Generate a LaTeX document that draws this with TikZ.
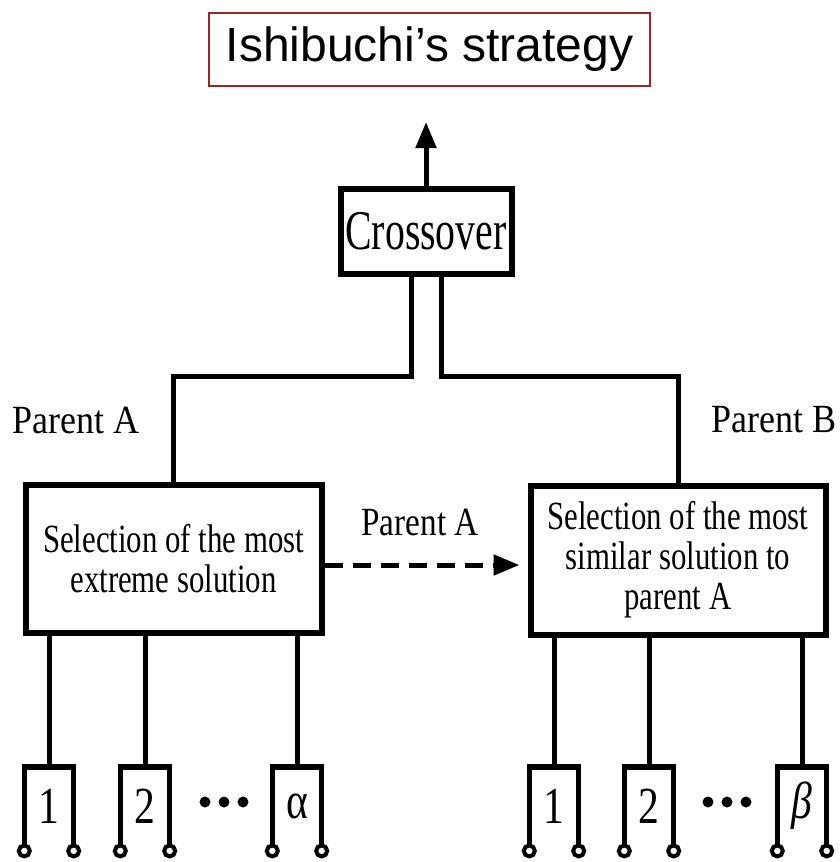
\documentclass[tikz,border=0pt]{standalone}
\usepackage{fontspec}
\setmainfont{Liberation Serif}
\newfontfamily\titlefont{Liberation Sans}
\usepackage{graphicx}
\usetikzlibrary{positioning, arrows.meta}
\newcommand{\cond}[2][0.8]{\scalebox{#1}[1]{#2}}
\definecolor{titlered}{RGB}{150,40,40}
\tikzset{
x=1pt, y=-1pt, % one unit is one pixel of the drawing, y pointing down
>={Triangle[length=26pt,width=20pt]}, % solid arrow heads
box/.style={draw, line width=6pt, align=center, inner sep=0pt, font=\fontsize{40}{40}\selectfont}, % selection boxes
tag/.style={font=\fontsize{40}{40}\selectfont}, % plain labels
wire/.style={line width=5pt}, % the connecting lines
chrom/.style={minimum width=49pt, minimum height=78pt, inner sep=0pt, anchor=north, font=\fontsize{52}{52}\selectfont}, % one solution of the population
}

\begin{document}
\begin{tikzpicture}
\useasboundingbox (0,0) rectangle (840,862);
\node[draw=titlered, line width=2pt, minimum width=441pt, minimum height=73pt, inner sep=0pt,
  font=\titlefont\fontsize{48}{48}\selectfont] (title) at (429.5,49.5) {Ishibuchi’s strategy};
\node[box, minimum width=171pt, minimum height=85pt, font=\fontsize{56}{56}\selectfont] (cross) at (426,231) {\cond[0.71]{Crossover}};
\node[box, minimum width=296pt, minimum height=148pt] (selA) at (173.5,558.5)
  {\cond[0.77]{Selection of the most}\\\cond[0.77]{extreme solution}};
\node[box, minimum width=295pt, minimum height=149pt] (selB) at (678,560)
  {\cond[0.77]{Selection of the most}\\\cond[0.77]{similar solution to}\\\cond[0.77]{parent A}};
\node[tag] (pA) at (76,420) {\cond[0.9]{Parent A}};
\node[tag] (pB) at (774,420) {\cond[0.9]{Parent B}};
\node[tag] (pAmid) at (420,522) {\cond[0.83]{Parent A}};
\coordinate (out) at (426,122);
\coordinate (jA) at (411,376);
\coordinate (jB) at (441,376);
\coordinate (dA) at ([yshift=-6.5pt]selA.east);
% population members
\foreach \x/\lab/\n in {49/1/a1, 145/2/a2, 297/α/aa, 554/1/b1, 649/2/b2, 802/{\itshape β}/bb} {
  \node[chrom] (\n) at (\x,767) {\cond{\lab}};
  \draw[line width=5pt] (\n.south west) -- (\n.north west) -- (\n.north east) -- (\n.south east);
  \draw[line width=6pt] ([xshift=-2pt]\n.north west) -- ([xshift=2pt]\n.north east);
  \draw[line width=4pt, fill=white] ([yshift=-5.5pt]\n.south west) circle (5.5pt)
    ([yshift=-5.5pt]\n.south east) circle (5.5pt);
}
\foreach \x in {205,224,243,708,727,746}
  \fill (\x,802) circle (5.5pt);
% connections
\draw[wire, ->] (cross.north) -- (out);
\draw[wire] ([xshift=-15pt]cross.south) -- (jA) -| (selA.north);
\draw[wire] ([xshift=15pt]cross.south) -- (jB) -| (selB.north);
\draw[line width=5pt, dash pattern=on 18pt off 10pt, ->, shorten >=8pt] (dA) -- (dA -| selB.west);
\foreach \n in {a1, a2, aa}
  \draw[wire] (selA.south -| \n.north) -- (\n.north);
\foreach \n in {b1, b2, bb}
  \draw[wire] (selB.south -| \n.north) -- (\n.north);
\end{tikzpicture}
\end{document}
